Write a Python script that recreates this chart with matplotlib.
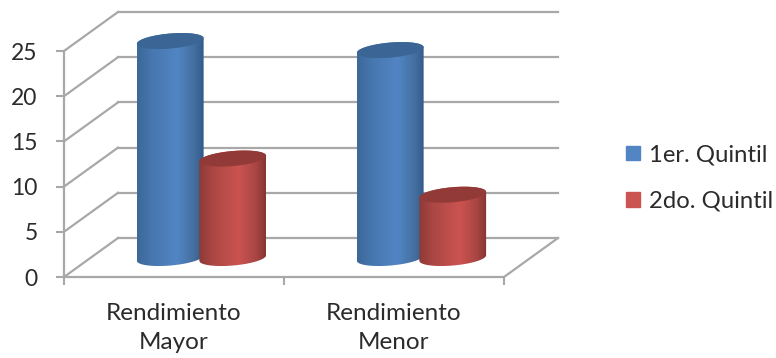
import numpy as np
import matplotlib
matplotlib.use("Agg")
import matplotlib.pyplot as plt
from matplotlib.colors import LinearSegmentedColormap
from matplotlib.patches import Patch
from matplotlib.path import Path
from matplotlib.transforms import Affine2D, IdentityTransform

categories = ["Rendimiento\nMayor", "Rendimiento\nMenor"]
series_names = ["1er. Quintil", "2do. Quintil"]
q1_values = [24, 23]
q2_values = [11, 7]
y_ticks = [0, 5, 10, 15, 20, 25]

W, H = 776, 358
plt.rcParams["font.family"] = ["Lato", "DejaVu Sans"]
TEXT = "#2b2b2b"
GRID = "#a8a8a8"
fig = plt.figure(figsize=(W / 100, H / 100), dpi=100)
ax = fig.add_axes([64 / W, 1 - 277 / H, 440 / W, 226 / H])
ax.set_xlim(0, 2)
ax.set_ylim(0, 25)
ax.set_autoscale_on(False)

back = ax.transData + Affine2D().translate(54, 39)
mid = ax.transData + Affine2D().translate(27.5, 19)

# walls and floor
for v in y_ticks:
    ax.plot([0, 2], [v, v], transform=back, color=GRID, lw=1.6, clip_on=False, zorder=1)
    p0 = ax.transData.transform((0, v))
    p1 = back.transform((0, v))
    ax.plot([p0[0], p1[0]], [p0[1], p1[1]], transform=IdentityTransform(),
            color=GRID, lw=1.6, clip_on=False, zorder=1)
p0 = ax.transData.transform((2, 0))
p1 = back.transform((2, 0))
ax.plot([p0[0], p1[0]], [p0[1], p1[1]], transform=IdentityTransform(),
        color=GRID, lw=1.6, clip_on=False, zorder=1)

for s in ("top", "right"):
    ax.spines[s].set_visible(False)
for s in ("left", "bottom"):
    ax.spines[s].set_color(GRID)
    ax.spines[s].set_linewidth(1.6)
    ax.spines[s].set_zorder(1.5)

ax.set_yticks(y_ticks)
ax.set_xticks([0, 1, 2])
ax.set_xticklabels([])
ax.tick_params(axis="both", color=GRID, width=1.5, length=6)
ax.tick_params(axis="y", labelsize=16.5, labelcolor=TEXT, pad=13)
for x, label in zip([0.5, 1.5], categories):
    ax.annotate(label, (x, 0), xytext=(0, -19), textcoords="offset points",
                ha="center", va="top", fontsize=17.5, color=TEXT, linespacing=1.43)

BLUE = ["#3d6898", "#5285c4", "#325a8a"]
RED = ["#8c3a38", "#cb5350", "#863532"]
BLUE_TOP, RED_TOP = "#3a6594", "#913a37"
A, B, TILT = 33.5, 7.5, np.deg2rad(5)


def ellipse(cx, cy, t):
    ex, ey = A * np.cos(t), B * np.sin(t)
    return (cx + ex * np.cos(TILT) - ey * np.sin(TILT),
            cy + ex * np.sin(TILT) + ey * np.cos(TILT))


def cylinder(x, v, colours, top_colour, z):
    x0, y0 = mid.transform((x, 0))
    x1, y1 = mid.transform((x, v))
    tb = np.linspace(np.pi, 2 * np.pi, 60)
    tt = np.linspace(0, np.pi, 60)
    bx, by = ellipse(x0, y0, tb)
    ux, uy = ellipse(x1, y1, tt)
    verts = np.r_[np.c_[bx, by], np.c_[ux, uy], [[bx[0], by[0]]]]
    body = Path(verts, closed=True)
    cmap = LinearSegmentedColormap.from_list(
        "c", [(0, colours[0]), (0.2, "#4676ae" if colours is BLUE else "#ab4744"),
              (0.6, colours[1]), (0.85, "#44709f" if colours is BLUE else "#a94644"),
              (1, colours[2])])
    half = A / 220
    im = ax.imshow(np.linspace(0, 1, 128)[None, :], cmap=cmap, aspect="auto",
                   extent=(x - half, x + half, -2, v + 2), transform=mid,
                   zorder=z)
    im.set_clip_box(fig.bbox)
    im.set_clip_path(body, IdentityTransform())
    t = np.linspace(0, 2 * np.pi, 100)
    tx, ty = ellipse(x1, y1, t)
    ax.fill(tx, ty, color=top_colour, transform=IdentityTransform(), lw=0,
            zorder=z + 0.1, clip_on=False)


for i, (a, b) in enumerate(zip(q1_values, q2_values)):
    centre = i + 0.5
    cylinder(centre - 0.142, a, BLUE, BLUE_TOP, 3 + i)
    cylinder(centre + 0.142, b, RED, RED_TOP, 3.5 + i)

ax.set_xlim(0, 2)
ax.set_ylim(0, 25)

handles = [Patch(color=BLUE[1], label=series_names[0]), Patch(color=RED[1], label=series_names[1])]
leg = fig.legend(handles=handles, loc="center left", bbox_to_anchor=(626 / W, 1 - 178 / H),
                 frameon=False, fontsize=17.2, labelcolor=TEXT, handlelength=0.58,
                 handleheight=0.58, handletextpad=0.4, labelspacing=1.05,
                 borderpad=0, borderaxespad=0)

fig.savefig("out.png", dpi=100)
